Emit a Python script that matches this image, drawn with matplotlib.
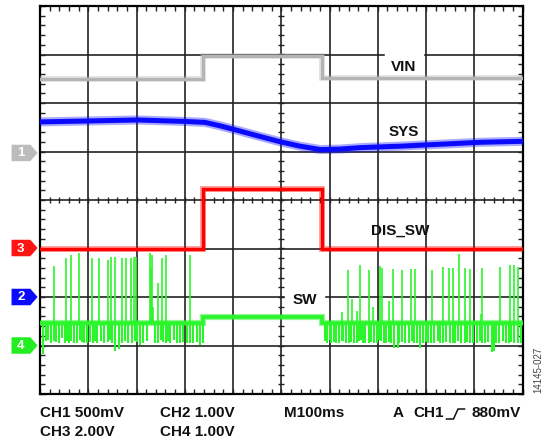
import matplotlib
matplotlib.use("Agg")
import matplotlib.pyplot as plt
from matplotlib.patches import Polygon, Rectangle
from matplotlib.lines import Line2D
import numpy as np

plt.rcParams['font.family'] = ['Liberation Sans', 'DejaVu Sans']

# ---- data (x in ms, 100 ms/div; y in screen divisions, 0..8) ----
vin_t = [0, 338, 338, 585, 585, 1000]
vin_v = [6.49, 6.49, 6.96, 6.96, 6.52, 6.52]

sys_t = [0, 104, 201, 301, 342, 373, 415, 456, 498, 539, 581, 622, 664, 747, 830, 913, 1000]
sys_v = [5.61, 5.63, 5.65, 5.62, 5.60, 5.53, 5.42, 5.31, 5.20, 5.11, 5.04, 5.05, 5.08, 5.11, 5.15, 5.19, 5.21]

dis_t = [0, 338, 338, 585, 585, 1000]
dis_v = [3.00, 3.00, 4.22, 4.22, 3.00, 3.00]

sw_t = [0, 338, 338, 585, 585, 1000]
sw_v = [1.46, 1.46, 1.58, 1.58, 1.47, 1.47]

# SW switching spikes (upward): time, top level
sw_up_t = [29, 54, 64, 81, 108, 122, 141, 147, 156, 170, 178, 189, 195, 199, 228, 230, 232, 235, 245, 253, 261, 311,
           638, 664, 682, 704, 708, 732, 750, 768, 778, 813, 835, 847, 856, 869, 881, 891, 916, 954, 974, 982, 990]
sw_up_v = [2.64, 2.80, 2.87, 2.91, 2.80, 2.80, 2.76, 2.82, 2.82, 2.80, 2.80, 2.80, 2.82, 2.82, 2.91, 2.60, 2.87, 1.80, 2.29, 2.80, 2.87, 2.87,
           2.56, 2.65, 2.56, 2.64, 2.59, 2.58, 2.56, 2.57, 2.58, 2.56, 2.62, 2.59, 2.59, 2.89, 2.59, 2.58, 2.59, 2.62, 2.66, 2.66, 2.62]

# SW mid-height spikes
sw_mid_t = [625, 646, 656, 691, 724, 913]
sw_mid_v = [1.70, 1.96, 1.72, 1.80, 1.92, 1.65]

# SW downward spikes: time, bottom level
sw_dn_t = [6, 12, 17, 23, 28, 34, 39, 46, 51, 56, 60, 65, 71, 77, 82, 87, 91, 98, 103, 110, 114, 119, 126, 133, 140,
           145, 149, 155, 163, 170, 177, 183, 190, 196, 202, 207, 214, 221, 239, 245, 250, 254, 261, 266, 270, 277,
           284, 290, 297, 304, 311, 318, 325, 332, 337,
           591, 595, 600, 604, 610, 614, 620, 625, 629, 635, 641, 645, 651, 658, 662, 666, 670, 674, 681, 687, 693,
           699, 703, 707, 712, 718, 724, 728, 734, 741, 745, 751, 757, 764, 770, 776, 782, 788, 793, 799, 805, 811,
           817, 824, 830, 836, 842, 849, 855, 861, 867, 873, 880, 886, 892, 898, 905, 911, 917, 923, 929, 936, 940,
           946, 952, 959, 965, 971, 977, 983, 990, 996]
sw_dn_v = [0.82, 1.10, 1.12, 1.05, 1.10, 1.08, 1.05, 1.15, 1.05, 1.10, 1.05, 1.10, 1.05, 1.05, 1.12, 1.08, 1.05, 1.05,
           1.08, 1.05, 1.10, 1.05, 1.10, 1.05, 1.08, 1.12, 1.05, 0.88, 0.92, 1.05, 1.10, 1.05, 1.05, 1.10, 1.08, 1.01,
           1.05, 1.10, 1.05, 1.05, 1.12, 1.08, 1.05, 1.10, 1.05, 1.12, 1.05, 1.05, 1.08, 1.05, 1.05, 1.05, 1.08, 1.01,
           1.05,
           1.10, 1.05, 1.12, 1.05, 1.08, 1.05, 1.05, 1.10, 1.10, 1.05, 1.05, 1.08, 1.05, 1.05, 1.10, 1.12, 1.05, 1.05,
           1.05, 1.08, 1.05, 1.05, 1.12, 1.10, 1.05, 1.05, 1.08, 1.05, 0.95, 0.95, 1.05, 1.08, 1.05, 1.05, 1.10, 1.05,
           1.05, 0.95, 1.05, 1.08, 1.05, 1.05, 1.05, 1.10, 1.05, 1.05, 1.08, 1.05, 1.05, 1.05, 1.10, 1.05, 1.05, 1.08,
           1.05, 1.05, 1.05, 1.10, 1.05, 1.05, 1.08, 0.87, 0.88, 1.05, 1.05, 1.10, 1.05, 1.05, 1.08, 1.05, 1.05, 1.05]

# channel reference markers
ch_labels = ['1', '3', '2', '4']
ch_levels = [4.97, 3.01, 2.00, 1.00]
ch_colors = ['#bcbcbc', '#ff1414', '#0a0aff', '#22ee22']

trace_labels = ['VIN', 'SYS', 'DIS_SW', 'SW']
label_t = [753, 753, 747, 548]
label_v = [6.75, 5.41, 3.37, 1.94]

bottom_lines = [('CH1 500mV', 40, 413), ('CH2 1.00V', 160, 413), ('M100ms', 284, 413),
                ('CH3 2.00V', 40, 432), ('CH4 1.00V', 160, 432)]

W, H = 543, 442
fig = plt.figure(figsize=(W / 100, H / 100), dpi=100)
ax = fig.add_axes([40 / W, 48 / H, 482.5 / W, 388 / H])
ax.set_xlim(0, 1000)
ax.set_ylim(0, 8)

grid_c = '#222222'
for x in range(100, 1000, 100):
    ax.axvline(x, color=grid_c, lw=1.2, zorder=1)
for y in range(1, 8):
    ax.axhline(y, color=grid_c, lw=1.2, zorder=1)

# center crosshair minor ticks
xs = np.arange(20, 1000, 20)
ax.plot(xs, np.full(len(xs), 4.0), ls='none', marker='|', ms=5, mew=1.0, color=grid_c, zorder=1)
ys = np.arange(0.2, 8, 0.2)
ax.plot(np.full(len(ys), 500.0), ys, ls='none', marker='_', ms=5, mew=1.0, color=grid_c, zorder=1)

ax.set_xticks([])
ax.set_yticks([])
ax.set_xticks(np.arange(0, 1001, 20), minor=True)
ax.set_yticks(np.arange(0, 8.01, 0.2), minor=True)
ax.tick_params(which='minor', direction='in', length=3.5, width=1.0, color=grid_c,
               top=True, bottom=True, left=True, right=True,
               labelbottom=False, labelleft=False)
for s in ax.spines.values():
    s.set_linewidth(1.6)
    s.set_color('black')

# white gaps in grid behind labels
ax.add_patch(Rectangle((716, 6.88), 77, 0.24, color='white', zorder=1.5))
ax.add_patch(Rectangle((508, 1.88), 80, 0.24, color='white', zorder=1.5))

# traces (a soft wide band under a solid core to suggest the scope noise)
gray_c, blue_c, green_c, red_c = '#b4b4b4', '#0a0aff', '#2bf52b', '#ff0000'
ax.plot(vin_t, vin_v, color=gray_c, lw=4.0, alpha=0.45, zorder=3, solid_joinstyle='miter')
ax.plot(vin_t, vin_v, color=gray_c, lw=2.2, zorder=3, solid_joinstyle='miter')
ax.plot(sys_t, sys_v, color=blue_c, lw=6.5, alpha=0.35, zorder=3)
ax.plot(sys_t, sys_v, color=blue_c, lw=3.6, zorder=3)
ax.plot(sw_t, sw_v, color=green_c, lw=4.5, alpha=0.5, zorder=3, solid_joinstyle='miter')
ax.plot(sw_t, sw_v, color=green_c, lw=2.6, zorder=3, solid_joinstyle='miter')
base_up = [sw_v[0] if t < 338 else sw_v[-1] for t in sw_up_t]
ax.vlines(sw_up_t, base_up, sw_up_v, color=green_c, lw=1.2, zorder=3)
ax.vlines(sw_mid_t, [sw_v[-1]] * len(sw_mid_t), sw_mid_v, color=green_c, lw=1.2, zorder=3)
base_dn = [sw_v[0] if t < 338 else sw_v[-1] for t in sw_dn_t]
ax.vlines(sw_dn_t, sw_dn_v, base_dn, color=green_c, lw=1.5, zorder=3)
ax.plot(dis_t, dis_v, color=red_c, lw=4.2, alpha=0.4, zorder=4, solid_joinstyle='miter')
ax.plot(dis_t, dis_v, color=red_c, lw=2.4, zorder=4, solid_joinstyle='miter')

for txt, t, v in zip(trace_labels, label_t, label_v):
    ax.text(t, v, txt, ha='center', va='center', fontsize=11, fontweight='bold', color='#111111', zorder=5)

# channel markers
for lab, lv, c in zip(ch_labels, ch_levels, ch_colors):
    poly = Polygon([(-59, lv - 0.17), (-20, lv - 0.17), (-5, lv), (-20, lv + 0.17), (-59, lv + 0.17)],
                   closed=True, facecolor=c, edgecolor='none', clip_on=False, zorder=5)
    ax.add_patch(poly)
    ax.text(-40, lv - 0.01, lab, ha='center', va='center', fontsize=9.5, fontweight='bold',
            color='white', clip_on=False, zorder=6)

# bottom text
for txt, px, py in bottom_lines:
    fig.text(px / W, 1 - py / H, txt, ha='left', va='center', fontsize=11, fontweight='bold', color='#111111')
fig.text(393 / W, 1 - 413 / H, 'A', ha='left', va='center', fontsize=11, fontweight='bold', color='#111111')
fig.text(413 / W, 1 - 413 / H, 'CH1', ha='left', va='center', fontsize=11, fontweight='bold', color='#111111')
fig.text(521 / W, 1 - 413 / H, '880mV', ha='right', va='center', fontsize=11, fontweight='bold', color='#111111')
sym_x = [446.5, 453.5, 458, 464.5]
sym_y = [419, 419, 409, 409]
fig.add_artist(Line2D([x / W for x in sym_x], [1 - y / H for y in sym_y], color='#111111', lw=1.1,
                      transform=fig.transFigure))

fig.text(538 / W, 1 - 370 / H, '14145-027', rotation=90, ha='center', va='center', fontsize=7, color='#444444')

fig.savefig('out.png', dpi=100)
